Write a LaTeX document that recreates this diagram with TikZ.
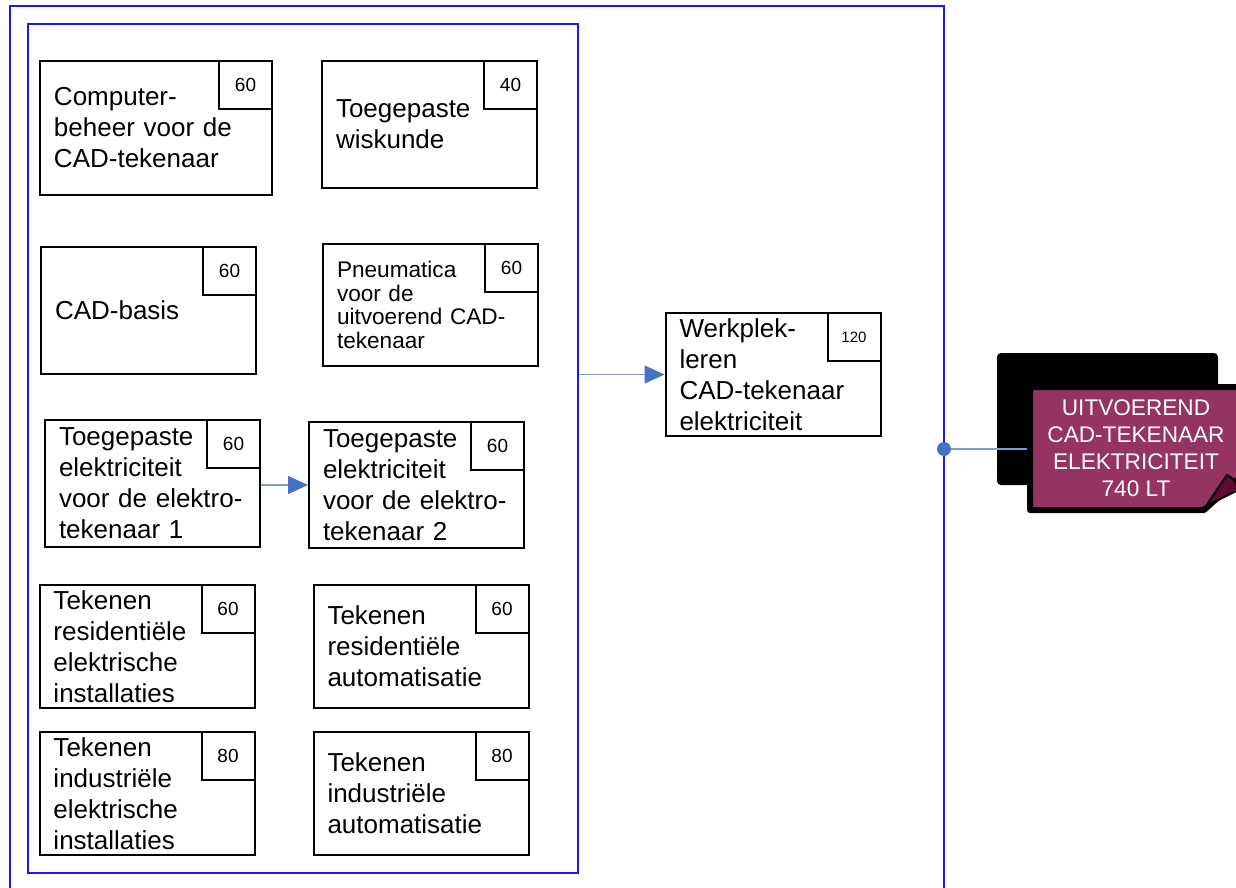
\documentclass[tikz,border=0pt]{standalone}
\usepackage{fontspec}
\setmainfont{Liberation Sans}
\usetikzlibrary{arrows.meta}
\begin{document}
\begin{tikzpicture}[x=0.5pt,y=-0.5pt]

\definecolor{frame_draw}{RGB}{25,25,245}
\definecolor{flow_line}{RGB}{120,160,215}
\definecolor{flow_tip}{RGB}{68,114,196}
\definecolor{badge_fill}{RGB}{149,52,98}
\definecolor{fold_fill}{RGB}{94,10,52}
\tikzstyle{course_style}=[rectangle,draw=black,fill=white,line width=1pt,inner xsep=7pt,inner ysep=0pt,align=left,text width=93.5pt,minimum height=61.5pt,font=\fontsize{13}{15.5}\selectfont]
\tikzstyle{hours_style}=[rectangle,draw=black,fill=white,line width=1pt,inner sep=0pt,minimum width=26.5pt,minimum height=24pt,anchor=north east,font=\fontsize{9.5}{11}\selectfont]
\tikzstyle{frame_style}=[draw=frame_draw,line width=1.1pt]
\tikzstyle{flow_style}=[draw=flow_line,line width=0.6pt,-{Triangle[length=10pt,width=9pt,color=flow_tip]}]

\useasboundingbox (0,0) rectangle (1236,888);

\draw[frame_style] (10,892) |- (944,6) -- (944,892);
\node(inner) at (303,448.5) [frame_style,rectangle,minimum width=275pt,minimum height=424.5pt] {};

\node(c1) at (156,128) [course_style,text width=102pt,minimum height=67pt] {Computer-\\beheer voor de\\CAD-tekenaar};
\node(h1) at (c1.north east) [hours_style] {60};

\node(c2) at (429.5,124.5) [course_style,minimum height=63.5pt] {Toegepaste\\wiskunde};
\node(h2) at (c2.north east) [hours_style] {40};

\node(c3) at (148.5,310.5) [course_style,minimum height=63.5pt] {CAD-basis};
\node(h3) at (c3.north east) [hours_style] {60};

\node(c4) at (430.5,305) [course_style,minimum height=61pt,font=\fontsize{11.3}{11.8}\selectfont] {Pneumatica\\voor de\\uitvoerend CAD-\\tekenaar};
\node(h4) at (c4.north east) [hours_style] {60};

\node(c5) at (152.5,483.5) [course_style,minimum height=63.5pt] {Toegepaste\\elektriciteit\\voor de elektro-\\tekenaar 1};
\node(h5) at (c5.north east) [hours_style] {60};

\node(c6) at (416.5,485) [course_style,minimum height=63pt] {Toegepaste\\elektriciteit\\voor de elektro-\\tekenaar 2};
\node(h6) at (c6.north east) [hours_style] {60};

\node(c7) at (147,646.5) [course_style] {Tekenen\\residentiële\\elektrische\\installaties};
\node(h7) at (c7.north east) [hours_style] {60};

\node(c8) at (421,646.5) [course_style] {Tekenen\\residentiële\\automatisatie};
\node(h8) at (c8.north east) [hours_style] {60};

\node(c9) at (147,793.5) [course_style] {Tekenen\\industriële\\elektrische\\installaties};
\node(h9) at (c9.north east) [hours_style] {80};

\node(c10) at (421,793.5) [course_style] {Tekenen\\industriële\\automatisatie};
\node(h10) at (c10.north east) [hours_style] {80};

\node(werk) at (773,374.5) [course_style] {Werkplek-\\leren\\CAD-tekenaar\\elektriciteit};
\node(h11) at (werk.north east) [hours_style,font=\fontsize{7.5}{9}\selectfont] {120};

\draw[flow_style] (c6.west -| c5.east) -- (c6.west);
\draw[flow_style] (werk.west -| inner.east) -- (werk.west);

\fill[black,rounded corners=2pt] (997,353) rectangle (1218,485);
\coordinate(dot) at (944,449);
\coordinate(tag) at (1030,449);
\draw[draw=flow_line,line width=0.6pt] (dot) -- (tag);
\fill[flow_tip] (dot) circle (3.5pt);
\filldraw[fill=badge_fill,draw=black,line width=3pt,line join=round] (1030,387) -- (1244,387) -- (1244,474) -- (1204,510) -- (1030,510) -- cycle;
\filldraw[fill=fold_fill,draw=black,line width=1pt,line join=round] (1206,506) -- (1227,475) .. controls (1232,477) and (1236,482) .. (1240,489) -- cycle;
\node(badge) at (1136,448) [text=white,align=center,inner sep=0pt,font=\fontsize{11.3}{13.5}\selectfont] {UITVOEREND\\CAD-TEKENAAR\\ELEKTRICITEIT\\740 LT};

\end{tikzpicture}
\end{document}
